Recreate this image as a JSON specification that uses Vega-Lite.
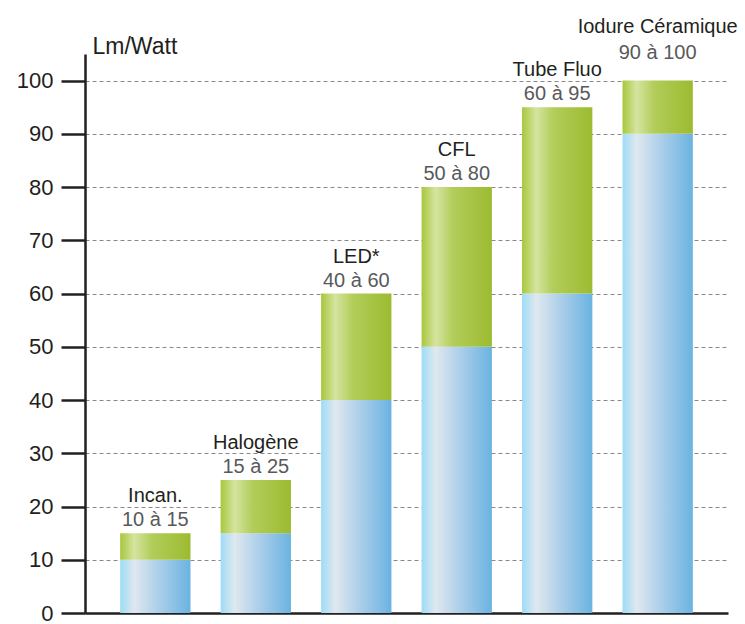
{
  "$schema": "https://vega.github.io/schema/vega-lite/v6.json",
  "autosize": "none",
  "width": 643,
  "height": 559,
  "padding": {"left": 85, "top": 54, "right": 17, "bottom": 11},
  "background": "white",
  "config": {
    "view": {"stroke": null},
    "font": "Liberation Sans"
  },
  "data": {
    "values": [
      {"name": "Incan.", "min": 10, "max": 15, "range": "10 à 15"},
      {"name": "Halogène", "min": 15, "max": 25, "range": "15 à 25"},
      {"name": "LED*", "min": 40, "max": 60, "range": "40 à 60"},
      {"name": "CFL", "min": 50, "max": 80, "range": "50 à 80"},
      {"name": "Tube Fluo", "min": 60, "max": 95, "range": "60 à 95"},
      {"name": "Iodure Céramique", "min": 90, "max": 100, "range": "90 à 100"}
    ]
  },
  "encoding": {
    "x": {
      "field": "name",
      "type": "nominal",
      "sort": null,
      "scale": {"paddingInner": 0.3, "paddingOuter": 0.35},
      "axis": {
        "title": null,
        "labels": false,
        "ticks": false,
        "grid": false,
        "domainColor": "#231f20",
        "domainWidth": 2.5
      }
    }
  },
  "layer": [
    {
      "mark": {
        "type": "bar",
        "color": {
          "gradient": "linear",
          "x1": 0, "y1": 0, "x2": 1, "y2": 0,
          "stops": [
            {"offset": 0, "color": "#9ddcf7"},
            {"offset": 0.2, "color": "#dfe8ef"},
            {"offset": 0.5, "color": "#b3d2ea"},
            {"offset": 1, "color": "#6ab3e1"}
          ]
        }
      },
      "encoding": {
        "y": {
          "field": "min",
          "type": "quantitative",
          "scale": {"domain": [0, 105], "nice": false},
          "axis": {
            "values": [0, 10, 20, 30, 40, 50, 60, 70, 80, 90, 100],
            "title": "Lm/Watt",
            "titleAngle": 0,
            "titleX": 7,
            "titleY": -1,
            "titleAlign": "left",
            "titleBaseline": "alphabetic",
            "titleFontWeight": "normal",
            "titleFontSize": 23,
            "titleColor": "#231f20",
            "labelFontSize": 22,
            "labelColor": "#231f20",
            "labelPadding": 8,
            "tickSize": 24,
            "tickWidth": 2.5,
            "tickColor": "#231f20",
            "domainColor": "#231f20",
            "domainWidth": 2.5,
            "grid": true,
            "gridColor": "#888888",
            "gridDash": [4, 3],
            "gridWidth": 1
          }
        }
      }
    },
    {
      "mark": {
        "type": "bar",
        "color": {
          "gradient": "linear",
          "x1": 0, "y1": 0, "x2": 1, "y2": 0,
          "stops": [
            {"offset": 0, "color": "#a8c73c"},
            {"offset": 0.2, "color": "#d5e4a0"},
            {"offset": 0.45, "color": "#b2cd5a"},
            {"offset": 1, "color": "#9cbb30"}
          ]
        }
      },
      "encoding": {
        "y": {"field": "min", "type": "quantitative"},
        "y2": {"field": "max"}
      }
    },
    {
      "transform": [{"filter": "datum.name !== 'Iodure Céramique'"}],
      "mark": {"type": "text", "baseline": "alphabetic", "dy": -7, "fontSize": 20, "color": "#58595b"},
      "encoding": {
        "y": {"field": "max", "type": "quantitative"},
        "text": {"field": "range"}
      }
    },
    {
      "transform": [{"filter": "datum.name !== 'Iodure Céramique'"}],
      "mark": {"type": "text", "baseline": "alphabetic", "dy": -31, "fontSize": 20, "color": "#231f20"},
      "encoding": {
        "y": {"field": "max", "type": "quantitative"},
        "text": {"field": "name"}
      }
    },
    {
      "transform": [{"filter": "datum.name === 'Iodure Céramique'"}],
      "mark": {"type": "text", "baseline": "alphabetic", "dy": -22, "fontSize": 20, "color": "#58595b"},
      "encoding": {
        "y": {"field": "max", "type": "quantitative"},
        "text": {"field": "range"}
      }
    },
    {
      "transform": [{"filter": "datum.name === 'Iodure Céramique'"}],
      "mark": {"type": "text", "baseline": "alphabetic", "dy": -48, "fontSize": 20, "color": "#231f20"},
      "encoding": {
        "y": {"field": "max", "type": "quantitative"},
        "text": {"field": "name"}
      }
    }
  ]
}
